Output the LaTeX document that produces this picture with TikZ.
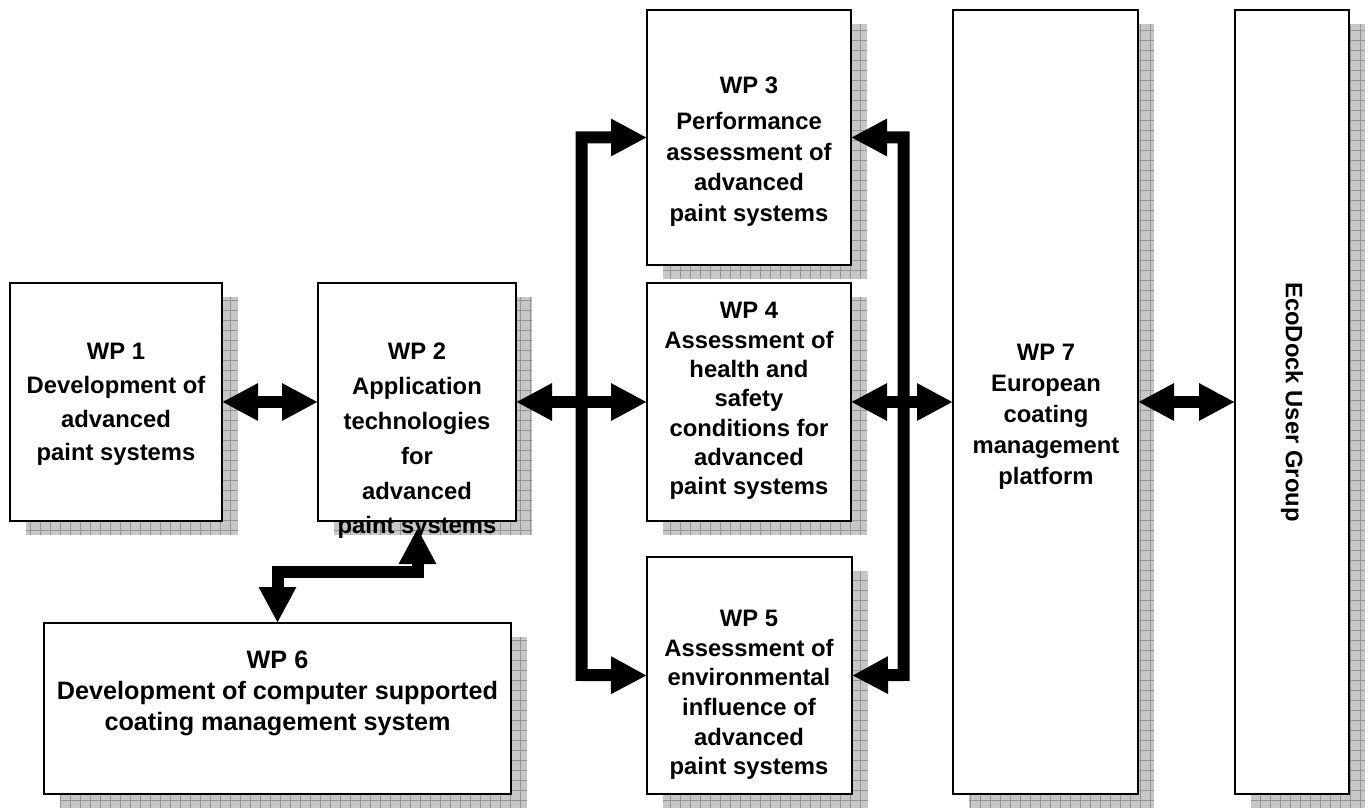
\documentclass[tikz,border=0pt]{standalone}
\usepackage{fontspec}
\setmainfont{Liberation Sans}
\usetikzlibrary{arrows.meta,fit,calc}
\tikzset{
  wpbox/.style={draw=black, line width=0.9pt, fill=white, inner sep=0pt, outer sep=0pt},
  shadowfill/.style={fill=black!22},
  shadowgrid/.style={draw=black!42, line width=0.35pt},
  lbl/.style={align=center, inner sep=0pt, text=black},
  fat/.style={line width=6pt, line join=miter, draw=black,
    arrows={Triangle[length=18pt,width=17.5pt]-Triangle[length=18pt,width=17.5pt]}},
}
\newcommand\wpbox[5]{%
  \begin{scope}
    \clip (#2+16,#3+14) rectangle (#4+16,#5+14);
    \fill[shadowfill] (#2+16,#3+14) rectangle (#4+16,#5+14);
    \draw[shadowgrid] (#2+16,#3+14) grid[step=5pt] (#4+16,#5+14);
  \end{scope}
  \node[wpbox, fit={(#2,#3) (#4,#5)}] (#1) {};
}
\newcommand\fs[1]{\bfseries\fontsize{11.9pt}{#1}\selectfont}
\begin{document}
\begin{tikzpicture}[x=0.5pt,y=-0.5pt]
\useasboundingbox[fill=white] (0,0) rectangle (1372,808);
% boxes
\wpbox{wp1}{10}{283}{222}{521}
\wpbox{wp2}{318}{283}{516}{521}
\wpbox{wp3}{647}{10}{851}{265}
\wpbox{wp4}{647}{283}{851}{521}
\wpbox{wp5}{647}{557}{852}{794}
\wpbox{wp6}{44}{623}{511}{794}
\wpbox{wp7}{953}{10}{1138}{794}
\wpbox{eco}{1235}{10}{1349}{794}
% texts
\node[lbl, font=\fs{16.8pt}] (t1) at (116,404.5) {WP 1\\Development of\\advanced\\paint systems};
\node[lbl, font=\fs{17.4pt}] (t2) at (417,441) {WP 2\\Application\\technologies\\for\\advanced\\paint systems};
\node[lbl, font=\fs{15.25pt}] (t3) at (749,151.5) {WP 3\\[2.75pt]Performance\\assessment of\\advanced\\paint systems};
\node[lbl, font=\fs{14.65pt}] (t4) at (749,401) {WP 4\\Assessment of\\health and\\safety\\conditions for\\advanced\\paint systems};
\node[lbl, font=\fs{14.8pt}] (t5) at (749,695) {WP 5\\Assessment of\\environmental\\influence of\\advanced\\paint systems};
\node[lbl, font=\bfseries\fontsize{12.6pt}{15.5pt}\selectfont] (t6) at (277.5,693) {WP 6\\Development of computer supported\\coating management system};
\node[lbl, font=\fs{15.5pt}] (t7) at (1046,417) {WP 7\\European\\coating\\management\\platform};
\node[lbl, font=\fs{14pt}, rotate=-90] (t8) at (1292,402) {EcoDock User Group};
% connectors
\coordinate (lb) at (581.5,675);
\coordinate (rb) at (903.5,675);
\coordinate (a2) at ($(wp2.south)+(0.5,7)$);
\coordinate (c6) at (277.5,571.5);
\draw[fat] (wp1.east) -- (wp2.west);
\draw[fat] (wp2.east) -- (wp4.west);
\draw[fat] (wp3.west) -| (lb) -- (wp5.west);
\draw[fat] (wp3.east) -| (rb) -- (wp5.east);
\draw[fat] (wp4.east) -- (wp7.west);
\draw[fat] (wp7.east) -- (eco.west);
\draw[fat] (a2) |- (c6) -- (wp6.north);
\end{tikzpicture}
\end{document}
